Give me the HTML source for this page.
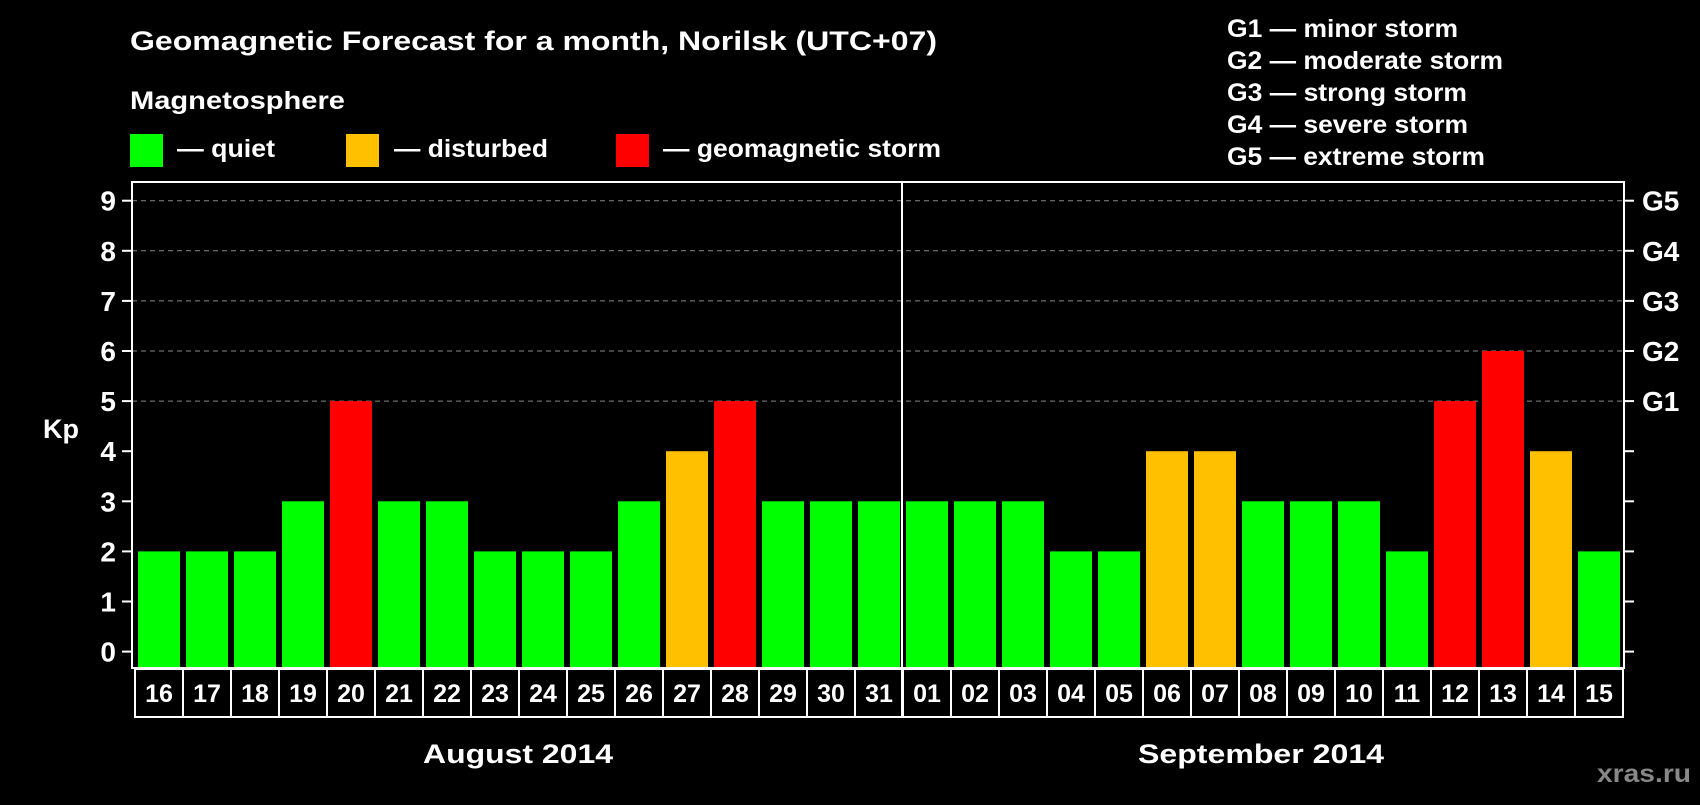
<!DOCTYPE html>
<html><head><meta charset="utf-8"><style>
body{margin:0;background:#000;width:1700px;height:800px;overflow:hidden}
svg text{font-family:"Liberation Sans",Arial,sans-serif;font-weight:bold;fill:#fff}
</style></head><body>
<svg width="1700" height="800" viewBox="0 0 1700 800" xmlns="http://www.w3.org/2000/svg">
<rect width="1700" height="800" fill="#000"/>
<text x="130" y="50" font-size="27" textLength="807" lengthAdjust="spacingAndGlyphs">Geomagnetic Forecast for a month, Norilsk (UTC+07)</text>
<text x="130" y="109" font-size="25" textLength="215" lengthAdjust="spacingAndGlyphs">Magnetosphere</text>
<g><rect x="130" y="134" width="33" height="33" fill="#00ff00"/><text x="177" y="157" font-size="25" textLength="98" lengthAdjust="spacingAndGlyphs">— quiet</text></g>
<g><rect x="346" y="134" width="33" height="33" fill="#ffc000"/><text x="394" y="157" font-size="25" textLength="154" lengthAdjust="spacingAndGlyphs">— disturbed</text></g>
<g><rect x="616" y="134" width="33" height="33" fill="#ff0000"/><text x="663" y="157" font-size="25" textLength="278" lengthAdjust="spacingAndGlyphs">— geomagnetic storm</text></g>
<g font-size="25">
<text x="1227" y="37" textLength="231" lengthAdjust="spacingAndGlyphs">G1 — minor storm</text>
<text x="1227" y="69" textLength="276" lengthAdjust="spacingAndGlyphs">G2 — moderate storm</text>
<text x="1227" y="101" textLength="240" lengthAdjust="spacingAndGlyphs">G3 — strong storm</text>
<text x="1227" y="133" textLength="241" lengthAdjust="spacingAndGlyphs">G4 — severe storm</text>
<text x="1227" y="165" textLength="258" lengthAdjust="spacingAndGlyphs">G5 — extreme storm</text>
</g>
<text x="43" y="438" font-size="27">Kp</text>
<g id="grid"></g><g id="bars"></g><g id="axes"></g>
<text x="518" y="763" font-size="27" text-anchor="middle" textLength="190" lengthAdjust="spacingAndGlyphs">August 2014</text>
<text x="1261" y="763" font-size="27" text-anchor="middle" textLength="246" lengthAdjust="spacingAndGlyphs">September 2014</text>
<text x="1597" y="782" font-size="25" textLength="94" lengthAdjust="spacingAndGlyphs" style="fill:#888">xras.ru</text>
</svg>
<script>
const days=["16","17","18","19","20","21","22","23","24","25","26","27","28","29","30","31","01","02","03","04","05","06","07","08","09","10","11","12","13","14","15"];
const kp=[2,2,2,3,5,3,3,2,2,2,3,4,5,3,3,3,3,3,3,2,2,4,4,3,3,3,2,5,6,4,2];
const yTicks=[0,1,2,3,4,5,6,7,8,9];
const gLabels=["G1","G2","G3","G4","G5"];
const gLevels=[5,6,7,8,9];
const NS="http://www.w3.org/2000/svg";
const y=v=>651.6-v*50.1;
const x0=i=>138+i*48;
const BOT=668;
function mk(t,a,p){const e=document.createElementNS(NS,t);for(const k in a)e.setAttribute(k,a[k]);p.appendChild(e);return e;}
const grid=document.getElementById('grid'),bars=document.getElementById('bars'),axes=document.getElementById('axes');
yTicks.forEach(v=>{
 if(v>=5){const l=mk('line',{x1:132,x2:1624,y1:y(v),y2:y(v),stroke:'#888','stroke-width':1,'stroke-dasharray':'5,4'},grid);
 
 }
 const t=mk('line',{x1:122,x2:131,y1:y(v),y2:y(v),stroke:'#fff','stroke-width':2},axes);
 
 
 const r=mk('line',{x1:1625,x2:1634,y1:y(v),y2:y(v),stroke:'#fff','stroke-width':2},axes);
 
 
 const tx=mk('text',{x:116,y:y(v)+10,'font-size':28,'text-anchor':'end'},axes);tx.textContent=v;
 
 
});
gLabels.forEach((g,i)=>{const t=mk('text',{x:1642,y:y(gLevels[i])+10,'font-size':28},axes);t.textContent=g;
 
 });
const col=v=>v>=5?'#ff0000':(v>=4?'#ffc000':'#00ff00');
kp.forEach((v,i)=>{
 const b=mk('rect',{x:x0(i),y:y(v),width:42,height:BOT-y(v),fill:col(v)},bars);
 
 
 const c=mk('rect',{x:x0(i)-3,y:669,width:48,height:48,fill:'none',stroke:'#fff','stroke-width':2},axes);
 
 
 const t=mk('text',{x:x0(i)+21,y:702,'font-size':25,'text-anchor':'middle'},axes);t.textContent=days[i];
 
 
});
const f=mk('rect',{x:132,y:182,width:1492,height:BOT-182,fill:'none',stroke:'#fff','stroke-width':2},axes);


const s=mk('line',{x1:902,x2:902,y1:182,y2:717,stroke:'#fff','stroke-width':2},axes);


</script>
</body></html>
